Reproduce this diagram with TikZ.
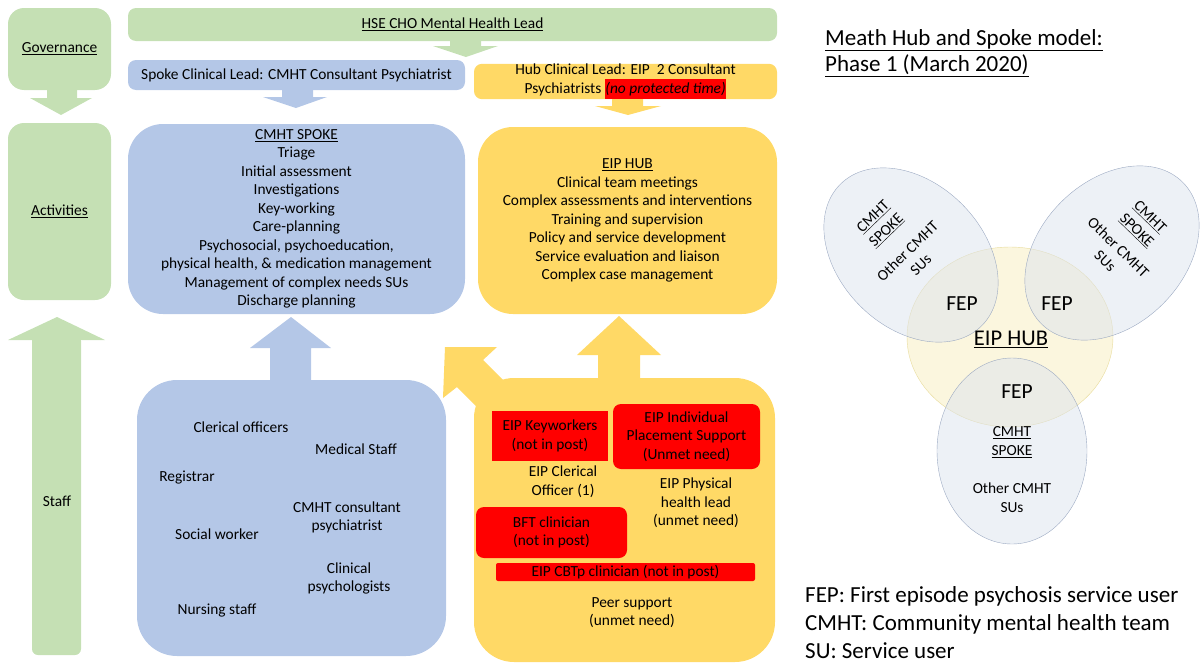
\documentclass[tikz,border=0pt]{standalone}
\usepackage{fontspec}
\setmainfont{Carlito}
\definecolor{govgreen}{HTML}{C5E0B4}
\definecolor{spokeblue}{HTML}{B4C7E7}
\definecolor{hubyellow}{HTML}{FFD966}
\definecolor{gapred}{HTML}{FF0000}
\definecolor{vennedge}{HTML}{9CAAC2}
\definecolor{vennfill}{HTML}{DCE3EE}
\definecolor{hubfill}{HTML}{FBF6DE}
\definecolor{hubedge}{HTML}{E8DC9C}
\begin{document}
\begin{tikzpicture}[x=1pt, y=-1pt,
    every node/.style={font=\fontsize{15.4}{18.5}\selectfont, align=center, inner sep=0pt},
    panel/.style={fill=#1, rounded corners=16},
    redbox/.style={fill=gapred, rounded corners=8},
    venntext/.style={font=\fontsize{15.4}{19}\selectfont},
    fep/.style={font=\fontsize{21.5}{25}\selectfont}]
  \useasboundingbox (0,0) rectangle (1203,664);

  % block arrows (down)
  \fill[govgreen] (47,88) -- (77,88) -- (77,98) -- (92,98) -- (61,115) -- (30,98) -- (47,98) -- cycle;
  \fill[govgreen] (450,40) -- (481,40) -- (481,46) -- (498,46) -- (466,57) -- (433,46) -- (450,46) -- cycle;
  \fill[spokeblue] (282,89) -- (313,89) -- (313,97) -- (327,97) -- (296,108) -- (263,97) -- (282,97) -- cycle;
  \fill[hubyellow] (612,98) -- (643,98) -- (643,106) -- (661,106) -- (628,115) -- (595,106) -- (612,106) -- cycle;

  % block arrows (up)
  \fill[govgreen, rounded corners=6] (32,335) rectangle (81,655);
  \fill[govgreen] (8,340) -- (57,317) -- (105,340) -- cycle;
  \fill[spokeblue] (270,384) -- (270,348) -- (250,348) -- (291,317) -- (331,348) -- (311,348) -- (311,384) -- cycle;
  \fill[hubyellow] (598,382) -- (598,355) -- (577,355) -- (619,316) -- (661,355) -- (640,355) -- (640,382) -- cycle;
  \fill[hubyellow] (513,390) -- (483,360) -- (497,347) -- (445,347) -- (443,398) -- (457,387) -- (487,417) -- cycle;

  % left column
  \node[panel=govgreen, minimum width=103, minimum height=82] (gov) at (59.5,49) {\underline{Governance}};
  \node[panel=govgreen, minimum width=103, minimum height=177] (act) at (59.5,211.5) {\underline{Activities}};
  \node (staff) at (57,501) {Staff};

  % leads
  \node[panel=govgreen, rounded corners=8, minimum width=649, minimum height=33] (hse) at (452.5,24.5) {\underline{HSE CHO Mental Health Lead}};
  \node[panel=spokeblue, rounded corners=8, minimum width=337, minimum height=30] (spokelead) at (296.5,75) {Spoke Clinical Lead: CMHT Consultant Psychiatrist};
  \node[panel=hubyellow, rounded corners=8, minimum width=303, minimum height=35] (hublead) at (625.5,81.5)
    {Hub Clinical Lead: EIP\ \ 2 Consultant\\Psychiatrists {\fboxsep=0.6pt\colorbox{gapred}{\strut\itshape(no protected time)}}};

  % activities
  \node[panel=spokeblue, rounded corners=35, minimum width=337, minimum height=190] (spoke) at (296.5,219)
    {\underline{CMHT SPOKE}\\Triage\\Initial assessment\\Investigations\\Key-working\\Care-planning\\
     Psychosocial, psychoeducation,\\physical health, \& medication management\\
     Management of complex needs SUs\\Discharge planning};
  \node[panel=hubyellow, rounded corners=35, minimum width=299, minimum height=187] (hub) at (627.5,220.5)
    {\underline{EIP HUB}\\Clinical team meetings\\Complex assessments and interventions\\Training and supervision\\
     Policy and service development\\Service evaluation and liaison\\Complex case management};

  % spoke staff
  \node[panel=spokeblue, rounded corners=40, minimum width=309, minimum height=276] (spokestaff) at (291.5,518) {};
  \node (clerical) at (241,427) {Clerical officers};
  \node (medical) at (356,449) {Medical Staff};
  \node (registrar) at (187,478) {Registrar};
  \node (consultant) at (347,517.5) {CMHT consultant\\psychiatrist};
  \node (social) at (217,534) {Social worker};
  \node (psych) at (349,578.5) {Clinical\\psychologists};
  \node (nursing) at (217,610) {Nursing staff};

  % hub staff
  \node[panel=hubyellow, rounded corners=40, minimum width=301, minimum height=284] (hubstaff) at (624.5,520) {};
  \node[redbox, rounded corners=0, minimum width=116, minimum height=50] (keyworkers) at (550,436) {EIP Keyworkers\\(not in post)};
  \node[redbox, minimum width=147, minimum height=65] (ips) at (686.5,436.5) {EIP Individual\\Placement Support\\(Unmet need)};
  \node (eipclerical) at (563,481.5) {EIP Clerical\\Officer (1)};
  \node (physical) at (696,503) {EIP Physical\\health lead\\(unmet need)};
  \node[redbox, minimum width=151, minimum height=51] (bft) at (551.5,532.5) {BFT clinician\\(not in post)};
  \node[redbox, rounded corners=2, minimum width=259, minimum height=18] (cbtp) at (625.5,572) {EIP CBTp clinician (not in post)};
  \node (peer) at (632,612.5) {Peer support\\(unmet need)};

  % title
  \node[anchor=west, align=left, font=\fontsize{23}{26}\selectfont] (title) at (825,53)
    {\underline{Meath Hub and Spoke model:}\\\underline{Phase 1 (March 2020)}};

  % venn
  \filldraw[draw=hubedge, fill=hubfill] (1010,337) ellipse [x radius=103, y radius=90];
  \filldraw[draw=vennedge, fill=vennfill, fill opacity=0.5, rotate around={-45:(911,255)}] (911,255) ellipse [x radius=100, y radius=72];
  \filldraw[draw=vennedge, fill=vennfill, fill opacity=0.5, rotate around={45:(1112,253)}] (1112,253) ellipse [x radius=100, y radius=72];
  \filldraw[draw=vennedge, fill=vennfill, fill opacity=0.5] (1012,451) ellipse [x radius=75, y radius=93];

  \node[venntext, rotate=44] (spokeL) at (880,224) {\underline{CMHT}\\\underline{SPOKE}};
  \node[venntext, rotate=44] (otherL) at (914,258) {Other CMHT\\SUs};
  \node[venntext, rotate=-44] (spokeR) at (1143,224) {\underline{CMHT}\\\underline{SPOKE}};
  \node[venntext, rotate=-44] (otherR) at (1112,254) {Other CMHT\\SUs};
  \node[venntext] (spokeB) at (1012,442.5) {\underline{CMHT}\\\underline{SPOKE}};
  \node[venntext] (otherB) at (1012,498) {Other CMHT\\SUs};
  \node[fep] (fepL) at (962,304) {FEP};
  \node[fep] (fepR) at (1057,304) {FEP};
  \node[fep] (fepB) at (1017,392) {FEP};
  \node[fep, font=\fontsize{22.5}{25}\selectfont] (eiphub) at (1011,339) {\underline{EIP HUB}};

  % legend
  \node[anchor=west, align=left, font=\fontsize{23}{28}\selectfont] (legend) at (805,622.5)
    {FEP: First episode psychosis service user\\CMHT: Community mental health team\\SU: Service user};
\end{tikzpicture}
\end{document}
